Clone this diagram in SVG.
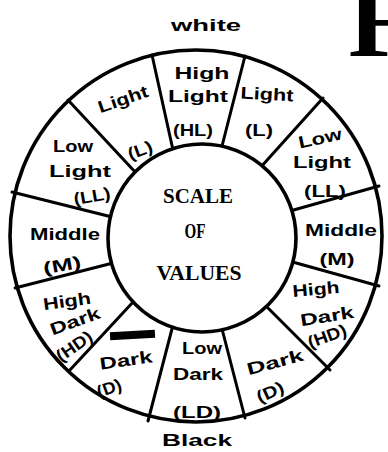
<svg xmlns="http://www.w3.org/2000/svg" width="388" height="452" viewBox="0 0 388 452">
<style>
.div{stroke:#000;stroke-width:3;stroke-linecap:round;fill:none}
.ring{stroke:#000;stroke-width:3.6;}
.h{font-family:"Liberation Sans","DejaVu Sans",sans-serif;font-weight:bold;font-size:17px;fill:#000;text-anchor:middle}
.c{font-family:"Liberation Serif","DejaVu Serif",serif;font-weight:bold;font-size:22px;fill:#000;text-anchor:middle}
</style>
<rect width="388" height="452" fill="#fff"/>
<text x="348" y="56" font-family="Liberation Serif, serif" font-weight="bold" font-size="108" fill="#000">F</text>
<text class="h" x="206" y="31" font-size="20" textLength="70" lengthAdjust="spacingAndGlyphs">white</text>
<circle id="outer" class="ring" cx="196" cy="236" r="186" fill="#fff"/>
<g id="connectors">
<line class="div" x1="152" y1="55" x2="173" y2="150"/>
<line class="div" x1="245" y1="56" x2="221" y2="150"/>
<line class="div" x1="68" y1="100" x2="137" y2="174"/>
<line class="div" x1="323" y1="98" x2="260" y2="168"/>
<line class="div" x1="12" y1="192" x2="112" y2="217"/>
<line class="div" x1="379" y1="186" x2="290" y2="211"/>
<line class="div" x1="15" y1="288" x2="113" y2="263"/>
<line class="div" x1="379" y1="286" x2="289" y2="261"/>
<line class="div" x1="69" y1="371" x2="134" y2="301"/>
<line class="div" x1="330" y1="370" x2="265" y2="305"/>
<line class="div" x1="148" y1="421" x2="173" y2="325"/>
<line class="div" x1="245" y1="418" x2="221" y2="325"/>
</g>
<circle id="inner" class="ring" cx="202" cy="238" r="94" fill="#fff"/>
<g id="center">
<text class="c" x="198" y="203" textLength="70" lengthAdjust="spacingAndGlyphs">SCALE</text>
<text class="c" x="195" y="238" textLength="21" lengthAdjust="spacingAndGlyphs">OF</text>
<text class="c" x="199" y="280" textLength="85" lengthAdjust="spacingAndGlyphs">VALUES</text>
</g>
<g id="seg-HL">
<text class="h" x="202" y="79" textLength="55" lengthAdjust="spacingAndGlyphs">High</text>
<text class="h" x="198" y="102" textLength="60" lengthAdjust="spacingAndGlyphs">Light</text>
<text class="h" x="193" y="136" textLength="40" lengthAdjust="spacingAndGlyphs">(HL)</text>
</g>
<g id="seg-L-left">
<text class="h" x="123" y="105" transform="rotate(-19 123 99)" textLength="52" lengthAdjust="spacingAndGlyphs">Light</text>
<text class="h" x="140" y="156" transform="rotate(-20 140 150)" textLength="25" lengthAdjust="spacingAndGlyphs">(L)</text>
</g>
<g id="seg-L-right">
<text class="h" x="267" y="100" transform="rotate(3 267 95)" textLength="53" lengthAdjust="spacingAndGlyphs">Light</text>
<text class="h" x="259" y="136" textLength="28" lengthAdjust="spacingAndGlyphs">(L)</text>
</g>
<g id="seg-LL-left">
<text class="h" x="73" y="152" textLength="40" lengthAdjust="spacingAndGlyphs">Low</text>
<text class="h" x="80" y="177" textLength="62" lengthAdjust="spacingAndGlyphs">Light</text>
<text class="h" x="92" y="202" transform="rotate(-10 92 196)" textLength="37" lengthAdjust="spacingAndGlyphs">(LL)</text>
</g>
<g id="seg-LL-right">
<text class="h" x="320" y="144" transform="rotate(-12 320 138)" textLength="44" lengthAdjust="spacingAndGlyphs">Low</text>
<text class="h" x="322" y="168" textLength="58" lengthAdjust="spacingAndGlyphs">Light</text>
<text class="h" x="325" y="197" textLength="42" lengthAdjust="spacingAndGlyphs">(LL)</text>
</g>
<g id="seg-M-left">
<text class="h" x="65" y="240" textLength="70" lengthAdjust="spacingAndGlyphs">Middle</text>
<text class="h" x="62" y="271" transform="rotate(-10 62 265)" textLength="38" lengthAdjust="spacingAndGlyphs">(M)</text>
</g>
<g id="seg-M-right">
<text class="h" x="341" y="236" textLength="72" lengthAdjust="spacingAndGlyphs">Middle</text>
<text class="h" x="337" y="265" textLength="35" lengthAdjust="spacingAndGlyphs">(M)</text>
</g>
<g id="seg-HD-left">
<text class="h" x="67" y="307" transform="rotate(-8 67 302)" textLength="48" lengthAdjust="spacingAndGlyphs">High</text>
<text class="h" x="75" y="327" transform="rotate(-20 75 321)" textLength="52" lengthAdjust="spacingAndGlyphs">Dark</text>
<text class="h" x="74" y="352" transform="rotate(-35 74 346)" textLength="40" lengthAdjust="spacingAndGlyphs">(HD)</text>
</g>
<g id="seg-HD-right">
<text class="h" x="316" y="295" transform="rotate(-5 316 289)" textLength="47" lengthAdjust="spacingAndGlyphs">High</text>
<text class="h" x="327" y="322" transform="rotate(-9 327 316)" textLength="54" lengthAdjust="spacingAndGlyphs">Dark</text>
<text class="h" x="327" y="342" transform="rotate(-20 327 336)" textLength="40" lengthAdjust="spacingAndGlyphs">(HD)</text>
</g>
<g id="seg-D-left">
<rect x="110" y="331" width="45" height="8" fill="#000" transform="rotate(-3 132 335)"/>
<text class="h" x="126" y="366" transform="rotate(-8 126 360)" textLength="53" lengthAdjust="spacingAndGlyphs">Dark</text>
<text class="h" x="109" y="394" transform="rotate(-20 109 388)" textLength="25" lengthAdjust="spacingAndGlyphs">(D)</text>
</g>
<g id="seg-LD">
<text class="h" x="202" y="354" textLength="40" lengthAdjust="spacingAndGlyphs">Low</text>
<text class="h" x="198" y="380" textLength="50" lengthAdjust="spacingAndGlyphs">Dark</text>
<text class="h" x="197" y="418" textLength="48" lengthAdjust="spacingAndGlyphs">(LD)</text>
</g>
<g id="seg-D-right">
<text class="h" x="275" y="368" transform="rotate(-15 275 362)" textLength="58" lengthAdjust="spacingAndGlyphs">Dark</text>
<text class="h" x="270" y="398" transform="rotate(-25 270 392)" textLength="28" lengthAdjust="spacingAndGlyphs">(D)</text>
</g>
<text class="h" x="197" y="446" textLength="70" lengthAdjust="spacingAndGlyphs">Black</text>
</svg>
